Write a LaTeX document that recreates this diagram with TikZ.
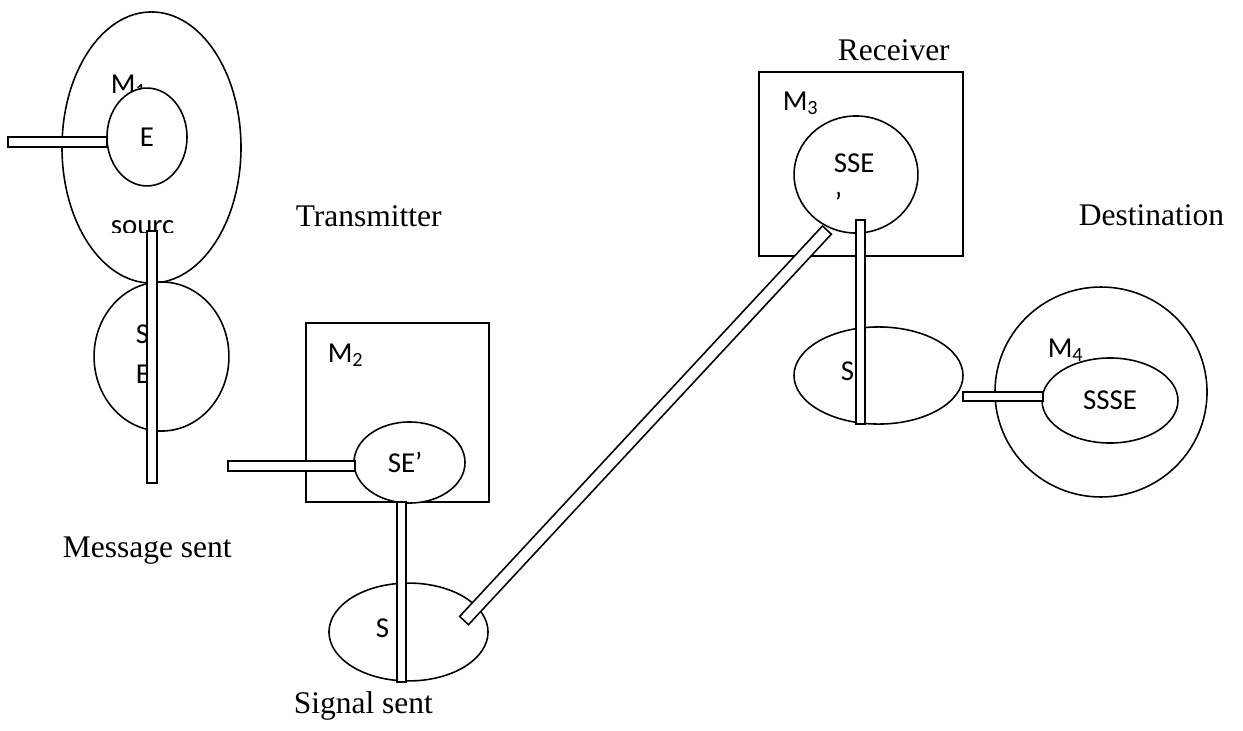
\documentclass[tikz,border=0pt]{standalone}
\usepackage{fontspec}
\setmainfont{Liberation Serif}
\newfontfamily\calibri{Carlito}
\usetikzlibrary{shapes.geometric}

\begin{document}
\begin{tikzpicture}[
    x=0.381pt, y=-0.381pt,
    line width=0.6pt,
    shp/.style={draw, fill=white, inner sep=0pt,
                font=\calibri\fontsize{11}{13}\selectfont},
    oval/.style={shp, ellipse},
    boxx/.style={shp, rectangle},
    bar/.style={draw, fill=white, rectangle, inner sep=0pt},
    lbl/.style={anchor=base west, inner sep=0pt,
                font=\calibri\fontsize{11}{13}\selectfont},
    heading/.style={anchor=base west, inner sep=0pt,
                font=\fontsize{12}{14}\selectfont}
  ]
    \useasboundingbox (0,0) rectangle (1243,730);

    % Source side
    \node[oval, minimum width=68.2pt, minimum height=103.3pt] (m1) at (151.5,147.5) {};
    \node[lbl] (m1lbl) at (110,93) {M\textsubscript{1}};
    \node[oval, minimum width=30.5pt, minimum height=37.3pt] (e) at (147,137) {E};
    \begin{scope}
      \clip (100,200) rectangle (190,232.5);
      \node[lbl] (srclbl) at (110,234) {sourc};
    \end{scope}
    \node[oval, minimum width=51.4pt, minimum height=56.8pt] (se) at (161.5,356.5) {};
    \node[lbl] (selbla) at (135,343) {S};
    \node[lbl] (selblb) at (135,383) {E};

    % Transmitter
    \node[boxx, minimum width=69.7pt, minimum height=68.2pt] (m2) at (397.5,412.5) {};
    \node[lbl] (m2lbl) at (327,362) {M\textsubscript{2}};
    \node[oval, minimum width=42.3pt, minimum height=30.9pt] (sep) at (409.5,462.5) {};
    \node[lbl] (seplbl) at (387,472) {SE’};
    \node[oval, minimum width=60.6pt, minimum height=37.3pt] (sig) at (408.5,632) {};
    \node[lbl] (siglbl) at (375,637) {S};

    % Receiver
    \node[boxx, minimum width=77.7pt, minimum height=70.1pt] (m3) at (861,164) {};
    \node[lbl] (m3lbl) at (782,110) {M\textsubscript{3}};
    \node[oval, minimum width=47.2pt, minimum height=44.6pt] (sse) at (856,174.5) {};
    \node[lbl] (sselbl) at (833,172) {SSE};
    \node[lbl] (ssetick) at (834,212) {’};
    \node[oval, minimum width=64.4pt, minimum height=37.0pt] (rsig) at (878.5,375.5) {};
    \node[lbl] (rsiglbl) at (840,380) {S};

    % Destination
    \node[oval, minimum width=80.8pt, minimum height=80.0pt] (m4) at (1101,392) {};
    \node[lbl] (m4lbl) at (1047,357) {M\textsubscript{4}};
    \node[oval, minimum width=51.8pt, minimum height=32.4pt] (ssse) at (1110,400.5) {SSSE};

    % Bars
    \node[bar, minimum width=37.7pt, minimum height=3.8pt] (bara) at (57.5,142) {};
    \node[bar, minimum width=3.8pt, minimum height=96.0pt] (barb) at (152,357) {};
    \node[bar, minimum width=48.4pt, minimum height=3.8pt] (barc) at (291.5,466) {};
    \node[bar, minimum width=3.6pt, minimum height=68.6pt] (bard) at (401.5,592) {};
    \node[bar, rotate=47.1, minimum width=203.1pt, minimum height=4.6pt] (link) at (645.5,425.3) {};
    \node[bar, minimum width=3.6pt, minimum height=77.7pt] (bare) at (860.5,322) {};
    \node[bar, minimum width=30.5pt, minimum height=3.4pt] (barf) at (1003,396.5) {};

    % Captions
    \node[heading] (msg)  at (62,557)   {Message sent};
    \node[heading] (tx)   at (295,226)  {Transmitter};
    \node[heading] (sigt) at (293,713)  {Signal sent};
    \node[heading] (rx)   at (837,60)   {Receiver};
    \node[heading] (dest) at (1078,225) {Destination};

  \end{tikzpicture}
\end{document}
